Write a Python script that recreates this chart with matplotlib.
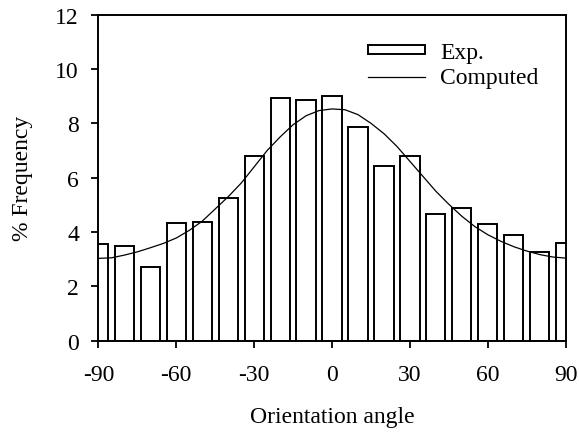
import matplotlib
matplotlib.use('Agg')
import matplotlib.pyplot as plt
import numpy as np

plt.rcParams['font.family'] = ['Liberation Serif', 'DejaVu Serif']
plt.rcParams['axes.unicode_minus'] = False

# measured bar heights (exp.), one bar every 10 deg
angles = [-90, -80, -70, -60, -50, -40, -30, -20, -10, 0,
          10, 20, 30, 40, 50, 60, 70, 80, 90]
freq_exp = [3.55, 3.49, 2.70, 4.35, 4.37, 5.27, 6.78, 8.95, 8.85, 9.0,
            7.88, 6.44, 6.81, 4.66, 4.90, 4.28, 3.88, 3.28, 3.58]

curve_x = [-90, -85, -80, -75, -70, -65, -60, -55, -50, -45, -40, -35, -30,
           -25, -20, -15, -10, -5, 0, 5, 10, 15, 20, 25, 30, 35, 40, 45,
           50, 55, 60, 65, 70, 75, 80, 85, 90]
curve_y = [3.03, 3.05, 3.15, 3.27, 3.42, 3.58, 3.78, 4.06, 4.40, 4.85, 5.30,
           5.80, 6.40, 7.00, 7.50, 7.95, 8.28, 8.47, 8.53, 8.50, 8.32, 8.00,
           7.62, 7.15, 6.60, 6.05, 5.50, 5.02, 4.58, 4.20, 3.90, 3.66, 3.46,
           3.30, 3.17, 3.08, 3.04]

fs = 17

fig = plt.figure(figsize=(5.79, 4.35), dpi=100)
ax = fig.add_axes([0.17, 0.2145, 0.807, 0.7495])

bars = ax.bar(angles, freq_exp, width=7.4, facecolor='white', edgecolor='black',
              linewidth=1.4, label='Exp.')
line, = ax.plot(curve_x, curve_y, color='black', linewidth=0.9, label='Computed')

ax.set_xlim(-90, 90)
ax.set_ylim(0, 12)
ax.set_xticks([-90, -60, -30, 0, 30, 60, 90])
ax.set_yticks([0, 2, 4, 6, 8, 10, 12])
ax.tick_params(labelsize=fs, direction='out', length=5, width=1.3)
ax.tick_params(axis='x', pad=12)
ax.tick_params(axis='y', pad=9)
for s in ax.spines.values():
    s.set_linewidth(1.4)

ax.set_xlabel('Orientation angle', fontsize=fs, labelpad=15)
ax.set_ylabel('% Frequency', fontsize=fs, labelpad=16)

ax.legend([bars, line], ['Exp.', 'Computed'], loc='upper left', frameon=False,
          fontsize=fs, handlelength=2.4, handleheight=0.22, handletextpad=0.65,
          labelspacing=0.17, borderpad=0, borderaxespad=0,
          bbox_to_anchor=(0.577, 0.915))

fig.savefig('out.png', dpi=100)
